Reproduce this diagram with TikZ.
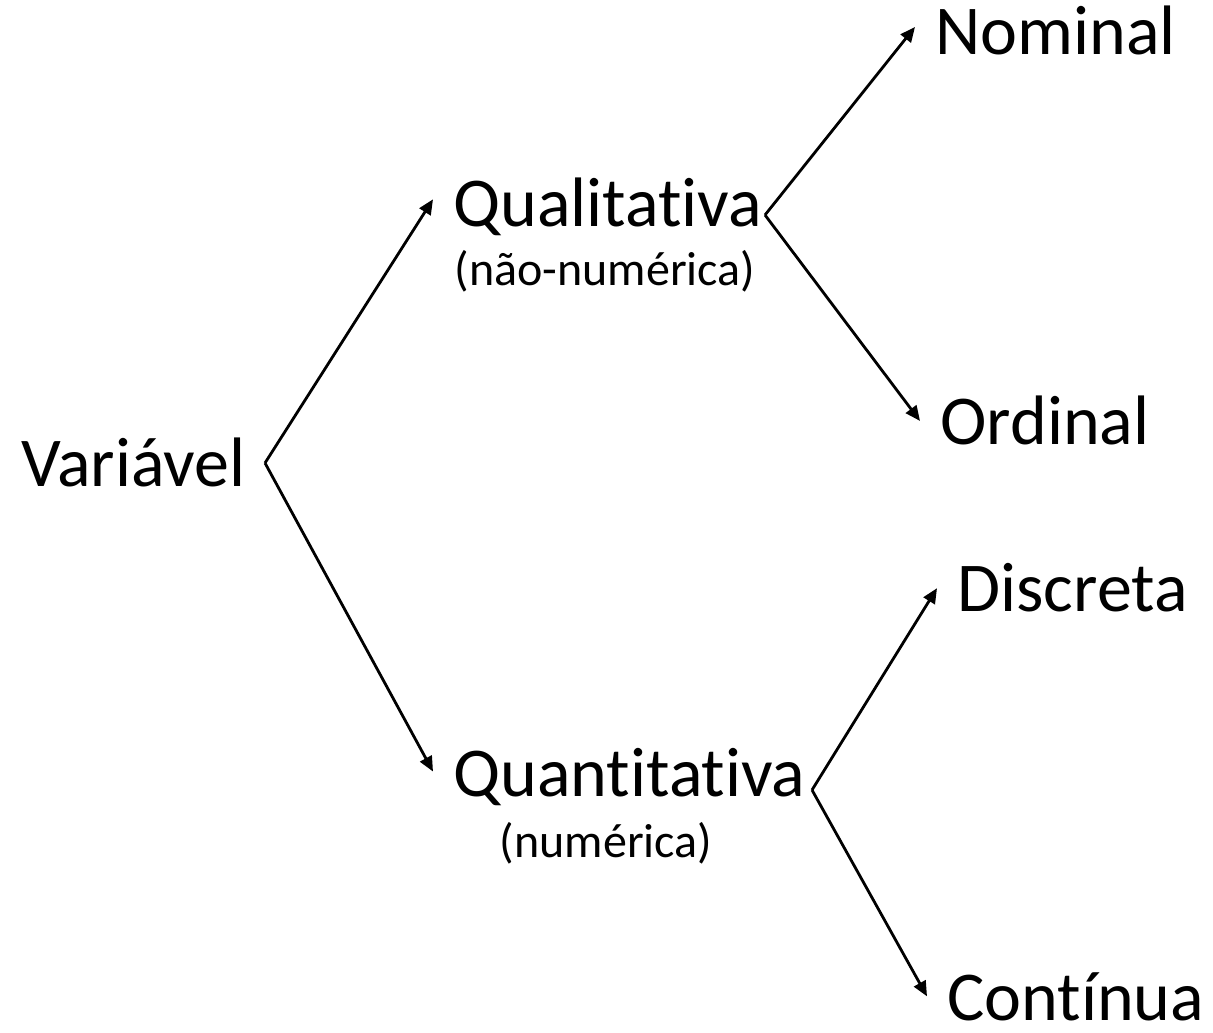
\documentclass[tikz,border=0pt]{standalone}
\usepackage{fontspec}
\setmainfont{Carlito}[RawFeature={-liga;-clig;-dlig;-calt;-rlig}]
\usetikzlibrary{arrows.meta}

\begin{document}
\begin{tikzpicture}[
  x=0.5pt, y=0.5pt,
  branch/.style={draw=black, line width=1.4pt, -{Triangle[length=7.5pt, width=6.5pt]}},
  word/.style={anchor=base west, font=\fontsize{35}{42}\selectfont, inner xsep=10pt, inner ysep=0pt},
  note/.style={anchor=base, font=\fontsize{24}{28}\selectfont, inner sep=0pt},
]
  \useasboundingbox (0,0) rectangle (1213,1032);

  % Root
  \node[word] (var) at (1, 545) {Variável};

  % First level
  \node[word] (qual) at (433, 805) {Qualitativa};
  \node[note] (qualnote) at (605, 746) {(não-numérica)};
  \node[word] (quant) at (433, 235) {Quantitativa};
  \node[note] (quantnote) at (606, 174) {(numérica)};

  % Second level
  \node[word] (nom) at (915, 977) {Nominal};
  \node[word] (ord) at (920, 587) {Ordinal};
  \node[word] (disc) at (937, 420) {Discreta};
  \node[word] (cont) at (927, 12) {Contínua};

  % Fork points
  \coordinate (varfork) at (265, 569);
  \coordinate (qualfork) at (765, 817);
  \coordinate (quantfork) at (812, 242);

  % Branches
  \draw[branch] (varfork) -- ([yshift=4pt]qual.west);
  \draw[branch] (varfork) -- ([yshift=3pt]quant.west);
  \draw[branch] (qualfork) -- ([yshift=2pt]nom.west);
  \draw[branch] (qualfork) -- (ord.west);
  \draw[branch] (quantfork) -- (disc.west);
  \draw[branch] (quantfork) -- (cont.west);
\end{tikzpicture}
\end{document}
